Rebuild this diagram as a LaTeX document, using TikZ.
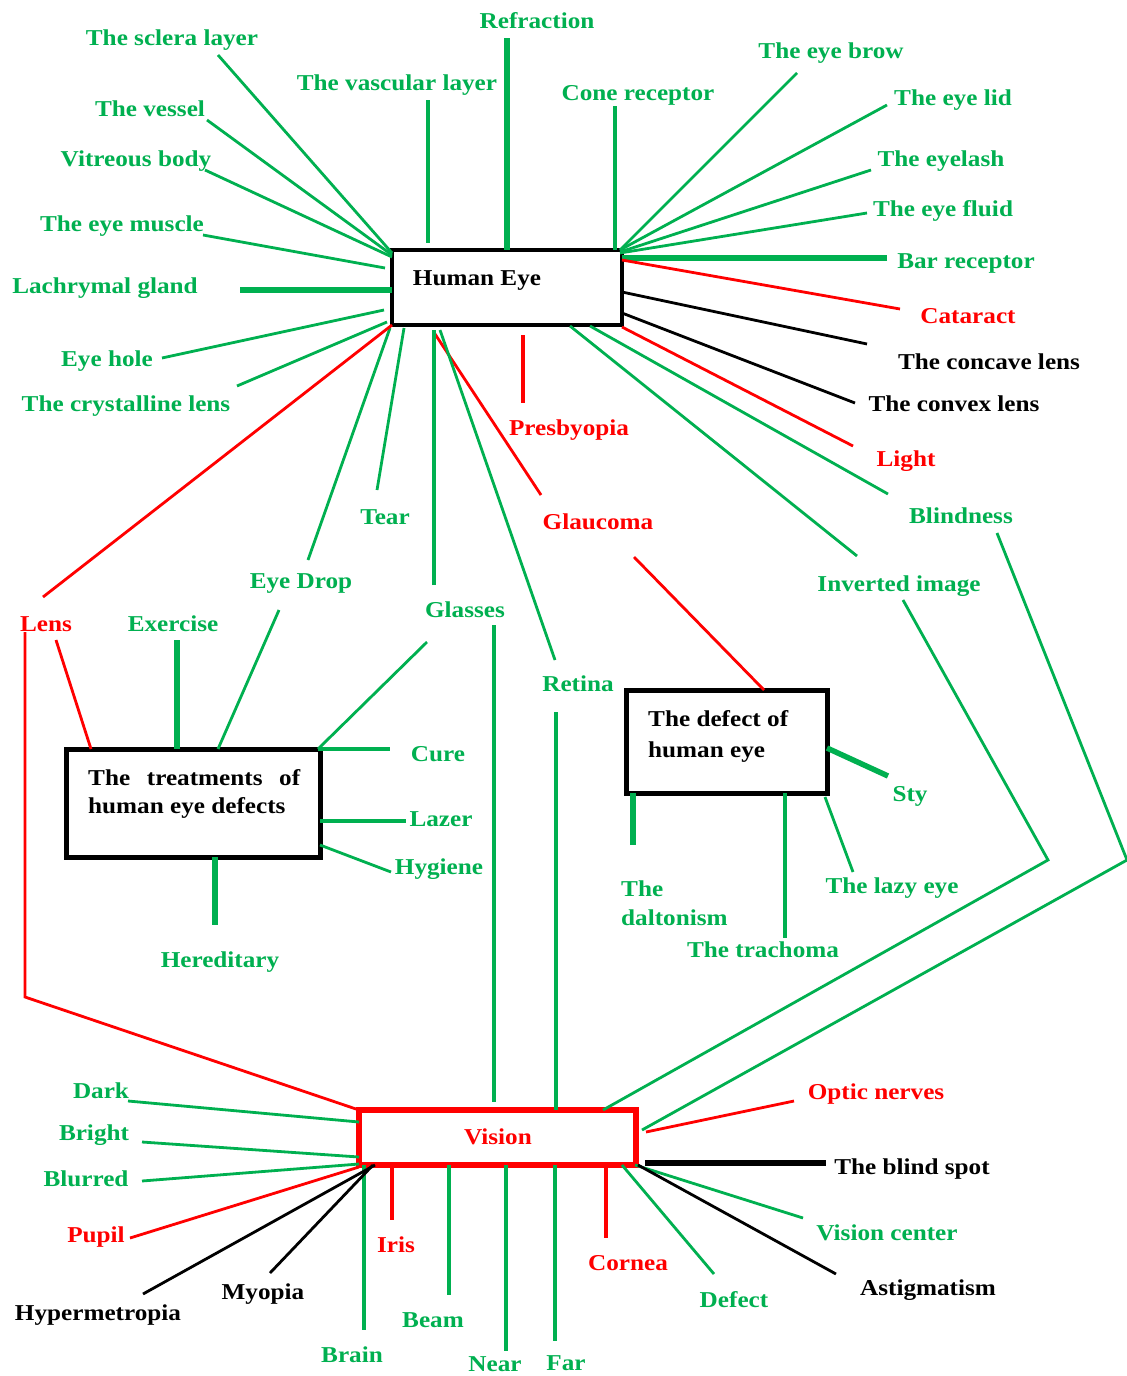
\documentclass[tikz,border=0pt]{standalone}
\usepackage{fontspec}
\setmainfont{Liberation Serif}[FakeStretch=1.11]
\usetikzlibrary{calc}
\definecolor{gr}{RGB}{0,176,80}
\definecolor{rd}{RGB}{255,0,0}
\begin{document}
\begin{tikzpicture}[x=1pt,y=-1pt,
  lbl/.style={font=\fontsize{22.7}{28}\selectfont\bfseries, inner sep=0pt, anchor=base, yshift=-7pt},
  lg/.style={lbl, text=gr},
  lr/.style={lbl, text=rd},
  lk/.style={lbl, text=black},
  box/.style={draw=black, line width=4.5pt, fill=white, inner sep=0pt, outer sep=0pt},
  boxtxt/.style={font=\fontsize{22.7}{28}\selectfont\bfseries, inner sep=0pt, text=black},
  gt/.style={draw=gr, line width=2.8pt},
  gm/.style={draw=gr, line width=3.8pt},
  gk/.style={draw=gr, line width=5.5pt},
  rt/.style={draw=rd, line width=2.8pt},
  rk/.style={draw=rd, line width=4.5pt},
  bt/.style={draw=black, line width=2.8pt},
  bk/.style={draw=black, line width=5.5pt},
]
\fill[white] (0,0) rectangle (1127,1376);
\useasboundingbox (0,0) rectangle (1127,1376);

% ---------- boxes ----------
\node[box, minimum width=230pt, minimum height=75pt] (he) at (507,287.5) {};
\node[boxtxt, anchor=base] (hetxt) at (477,285) {Human Eye};
\node[box, line width=5pt, minimum width=254pt, minimum height=108pt] (tb) at (193,803) {};
\node[boxtxt, anchor=north west, text width=212pt, align=justify] (tbtxt) at (88,769.5) {The treatments of human eye defects};
\node[box, line width=5pt, minimum width=201pt, minimum height=103pt] (db) at (726.5,741.5) {};
\node[boxtxt, anchor=north west, align=left, font=\fontsize{22.7}{31}\selectfont\bfseries] (dbtxt) at (648,710.4) {The defect of\\human eye};
\node[box, draw=rd, line width=6pt, minimum width=277pt, minimum height=55pt] (vb) at (497.5,1137.5) {};
\node[boxtxt, text=rd, anchor=base] (vbtxt) at (498,1144) {Vision};

% ---------- labels ----------
\node[lg] (sclera) at (172,38) {The sclera layer};
\node[lg] (refr) at (537,21) {Refraction};
\node[lg] (vasc) at (397,83) {The vascular layer};
\node[lg] (vessel) at (150,109) {The vessel};
\node[lg] (vitr) at (136,159) {Vitreous body};
\node[lg] (muscle) at (122,224) {The eye muscle};
\node[lg] (lach) at (105,286) {Lachrymal gland};
\node[lg] (hole) at (107,359) {Eye hole};
\node[lg] (cryst) at (126,404) {The crystalline lens};
\node[lg] (cone) at (638,93) {Cone receptor};
\node[lg] (brow) at (831,51) {The eye brow};
\node[lg] (lid) at (953,98) {The eye lid};
\node[lg] (lash) at (941,159) {The eyelash};
\node[lg] (fluid) at (943,209) {The eye fluid};
\node[lg] (bar) at (966,261) {Bar receptor};
\node[lr] (catar) at (968,316) {Cataract};
\node[lk] (concave) at (989,362) {The concave lens};
\node[lk] (convex) at (954,404) {The convex lens};
\node[lr] (light) at (906,459) {Light};
\node[lg] (blind) at (961,516) {Blindness};
\node[lg] (invert) at (899,584) {Inverted image};
\node[lr] (presb) at (569,428) {Presbyopia};
\node[lr] (glauc) at (598,522) {Glaucoma};
\node[lg] (tear) at (385,517) {Tear};
\node[lg] (drop) at (301,581) {Eye Drop};
\node[lg] (glass) at (465,610) {Glasses};
\node[lg] (retina) at (578,684) {Retina};
\node[lr] (lens) at (46,624) {Lens};
\node[lg] (exer) at (173,624) {Exercise};
\node[lg] (cure) at (438,754) {Cure};
\node[lg] (lazer) at (441,819) {Lazer};
\node[lg] (hyg) at (439,867) {Hygiene};
\node[lg] (hered) at (220,960) {Hereditary};
\node[lg] (sty) at (910,794) {Sty};
\node[lg] (lazy) at (892,886) {The lazy eye};
\node[lbl, text=gr, anchor=north west, yshift=0pt, align=left, font=\fontsize{22.7}{29}\selectfont\bfseries] (dalt) at (621,874) {The\\daltonism};
\node[lg] (trach) at (763,950) {The trachoma};
\node[lg] (dark) at (101,1091) {Dark};
\node[lg] (bright) at (94,1133) {Bright};
\node[lg] (blur) at (86,1179) {Blurred};
\node[lr] (pupil) at (96,1235) {Pupil};
\node[lk] (hyper) at (98,1313) {Hypermetropia};
\node[lk] (myop) at (263,1292) {Myopia};
\node[lr] (iris) at (396,1245) {Iris};
\node[lg] (brain) at (352,1355) {Brain};
\node[lg] (beam) at (433,1320) {Beam};
\node[lg] (near) at (495,1364) {Near};
\node[lg] (far) at (566,1363) {Far};
\node[lr] (cornea) at (628,1263) {Cornea};
\node[lg] (defect) at (734,1300) {Defect};
\node[lr] (optic) at (876,1092) {Optic nerves};
\node[lk] (bspot) at (912,1167) {The blind spot};
\node[lg] (vcent) at (887,1233) {Vision center};
\node[lk] (astig) at (928,1288) {Astigmatism};

% ---------- free ends of connectors ----------
\coordinate (e-sclera) at (218,55);
\coordinate (e-vessel) at (207,120);
\coordinate (e-vitr) at (205,170);
\coordinate (e-muscle) at (203,235);
\coordinate (e-lach) at (240,290);
\coordinate (e-hole) at (162,358);
\coordinate (e-cryst) at (237,386);
\coordinate (e-vasc) at (428,100);
\coordinate (e-refr) at (507,38);
\coordinate (e-cone) at (615,106);
\coordinate (e-brow) at (797,73);
\coordinate (e-lid) at (887,105);
\coordinate (e-lash) at (871,170);
\coordinate (e-fluid) at (867,213);
\coordinate (e-bar) at (887,258);
\coordinate (e-catar) at (900,309);
\coordinate (e-concave) at (867,344);
\coordinate (e-convex) at (855,403);
\coordinate (e-light) at (853,446);
\coordinate (e-blind) at (888,494);
\coordinate (e-invert) at (857,556);
\coordinate (e-presb1) at (523,335);
\coordinate (e-presb2) at (523,403);
\coordinate (e-glauc) at (541,495);
\coordinate (e-retina) at (555,660);
\coordinate (e-glass) at (434,585);
\coordinate (e-tear) at (377,490);
\coordinate (e-drop) at (308,560);
\coordinate (e-lens) at (43,597);
% treatments
\coordinate (e-lens2) at (56,640);
\coordinate (e-exer) at (177,640);
\coordinate (e-drop2) at (279,610);
\coordinate (e-glass2) at (427,642);
\coordinate (e-cure) at (390,749);
\coordinate (e-lazer) at (406,821);
\coordinate (e-hyg) at (391,872);
\coordinate (e-hered) at (215,925);
% defect box
\coordinate (e-glauc2) at (634,557);
\coordinate (e-sty) at (888,776);
\coordinate (e-lazy) at (853,872);
\coordinate (e-dalt) at (633,845);
\coordinate (e-trach) at (785,938);
% vision
\coordinate (e-lens3) at (25,632);
\coordinate (k-lens) at (25,997);
\coordinate (e-glass3) at (494,625);
\coordinate (e-retina2) at (556,712);
\coordinate (e-invert2) at (903,600);
\coordinate (k-invert) at (1048,860);
\coordinate (e-blind2) at (997,533);
\coordinate (k-blind) at (1127,860);
\coordinate (e-optic) at (794,1101);
\coordinate (e-bspot) at (826,1163);
\coordinate (e-vcent) at (803,1218);
\coordinate (e-astig) at (836,1274);
\coordinate (e-defect) at (714,1274);
\coordinate (e-cornea) at (606,1238);
\coordinate (e-far) at (555,1341);
\coordinate (e-near) at (506,1351);
\coordinate (e-beam) at (449,1295);
\coordinate (e-iris) at (392,1220);
\coordinate (e-brain) at (364,1330);
\coordinate (e-myop) at (270,1273);
\coordinate (e-hyper) at (143,1294);
\coordinate (e-pupil) at (130,1238);
\coordinate (e-blur) at (142,1181);
\coordinate (e-bright) at (142,1142);
\coordinate (e-dark) at (128,1101);

% ---------- connectors: Human Eye ----------
\draw[gt] (e-sclera) -- ($(he.north west)+(0,3)$);
\draw[gt] (e-vessel) -- ($(he.north west)+(0,5)$);
\draw[gt] (e-vitr) -- ($(he.north west)+(0,7)$);
\draw[gt] (e-muscle) -- ($(he.north west)+(-7,18)$);
\draw[gk] (e-lach) -- ($(he.north west)+(0,40)$);
\draw[gt] (e-hole) -- ($(he.south west)+(-8,-15)$);
\draw[gt] (e-cryst) -- ($(he.south west)+(-5,-3)$);
\draw[gm] (e-vasc) -- ($(he.north west)+(36,-7)$);
\draw[gk] (e-refr) -- (he.north);
\draw[gm] (e-cone) -- ($(he.north east)+(-7,0)$);
\draw[gt] (e-brow) -- ($(he.north east)+(-2,0)$);
\draw[gt] (e-lid) -- ($(he.north east)+(-2,0)$);
\draw[gt] (e-lash) -- ($(he.north east)+(-2,2)$);
\draw[gt] (e-fluid) -- ($(he.north east)+(-2,3)$);
\draw[gk] (e-bar) -- ($(he.north east)+(0,8)$);
\draw[rt] (e-catar) -- ($(he.north east)+(0,10)$);
\draw[bt] (e-concave) -- ($(he.north east)+(0,42)$);
\draw[bt] (e-convex) -- ($(he.north east)+(0,63)$);
\draw[rt] (e-light) -- ($(he.south east)+(0,2)$);
\draw[gt] (e-blind) -- ($(he.south east)+(-32,1)$);
\draw[gt] (e-invert) -- ($(he.south east)+(-52,1)$);
\draw[rk] (e-presb1) -- (e-presb2);
\draw[rt] (e-glauc) -- ($(he.south west)+(43,9)$);
\draw[gt] (e-retina) -- ($(he.south west)+(48,5)$);
\draw[gm] (e-glass) -- ($(he.south west)+(42,5)$);
\draw[gt] (e-tear) -- ($(he.south west)+(12,3)$);
\draw[gt] (e-drop) -- ($(he.south west)+(-2,3)$);
\draw[rt] (e-lens) -- (he.south west);

% ---------- connectors: treatments ----------
\draw[rt] (e-lens2) -- ($(tb.north west)+(25,0)$);
\draw[gk] (e-exer) -- ($(tb.north west)+(111,0)$);
\draw[gt] (e-drop2) -- ($(tb.north west)+(152,0)$);
\draw[gt] (e-glass2) -- ($(tb.north east)+(-2,0)$);
\draw[gm] ($(tb.north east)+(-2,0)$) -- (e-cure);
\draw[gm] ($(tb.north east)+(0,72)$) -- (e-lazer);
\draw[gt] ($(tb.north east)+(0,96)$) -- (e-hyg);
\draw[gk] ($(tb.south west)+(149,0)$) -- (e-hered);

% ---------- connectors: defect box ----------
\draw[rt] (e-glauc2) -- ($(db.north west)+(138,0)$);
\draw[gk] ($(db.north east)+(0,58)$) -- (e-sty);
\draw[gt] ($(db.south east)+(-2,4)$) -- (e-lazy);
\draw[gk] ($(db.south west)+(7,0)$) -- (e-dalt);
\draw[gm] ($(db.south west)+(159,0)$) -- (e-trach);

% ---------- connectors: Vision ----------
\draw[rt] (e-lens3) -- (k-lens) -- (vb.north west);
\draw[gm] (e-glass3) -- ($(vb.north west)+(135,-8)$);
\draw[gm] (e-retina2) -- ($(vb.north west)+(197,0)$);
\draw[gt] (e-invert2) -- (k-invert) -- ($(vb.north east)+(-33,0)$);
\draw[gt] (e-blind2) -- (k-blind) -- ($(vb.north east)+(6,20)$);
\draw[rt] ($(vb.north east)+(10,22)$) -- (e-optic);
\draw[bk] ($(vb.south east)+(9,-2)$) -- (e-bspot);
\draw[gt] ($(vb.south east)+(-1,0)$) -- (e-vcent);
\draw[bt] ($(vb.south east)+(2,0)$) -- (e-astig);
\draw[gt] ($(vb.south east)+(-14,0)$) -- (e-defect);
\draw[rk] ($(vb.south east)+(-30,2)$) -- (e-cornea);
\draw[gm] ($(vb.south west)+(196,0)$) -- (e-far);
\draw[gm] ($(vb.south west)+(147,0)$) -- (e-near);
\draw[gm] ($(vb.south west)+(90,0)$) -- (e-beam);
\draw[rk] ($(vb.south west)+(33,0)$) -- (e-iris);
\draw[gm] ($(vb.south west)+(5,0)$) -- (e-brain);
\draw[bt] ($(vb.south west)+(14,0)$) -- (e-myop);
\draw[bt] ($(vb.south west)+(16,0)$) -- (e-hyper);
\draw[rt] ($(vb.south west)+(0,2)$) -- (e-pupil);
\draw[gt] ($(vb.south west)+(0,-1)$) -- (e-blur);
\draw[gt] ($(vb.south west)+(0,-8)$) -- (e-bright);
\draw[gt] ($(vb.north west)+(0,12)$) -- (e-dark);
\end{tikzpicture}
\end{document}
